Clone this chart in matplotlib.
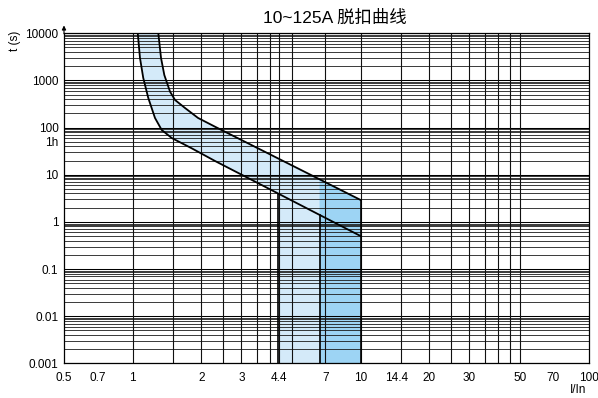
import matplotlib
matplotlib.use("Agg")
import matplotlib.pyplot as plt
import numpy as np

plt.rcParams["font.family"] = ["Liberation Sans", "Noto Sans CJK SC", "DejaVu Sans"]

# 脱扣曲线边界 (I/In, t 秒)
upper_i = [1.296, 1.332, 1.377, 1.459, 1.534, 1.697, 1.935, 2.30, 10.0]
upper_t = [10000, 2990, 1300, 577, 385, 260, 160, 104, 2.91]
lower_i = [1.053, 1.077, 1.113, 1.171, 1.253, 1.341, 1.484, 1.816, 2.30, 10.0]
lower_t = [10000, 2990, 1130, 424, 160, 89, 60, 36.3, 19.5, 0.5]

# 瞬时脱扣区
band_light = [4.35, 6.6]
band_dark = [6.6, 10.0]

x_ticks = [0.5, 0.7, 1, 2, 3, 4.4, 7, 10, 14.4, 20, 30, 50, 70, 100]
x_labels = ["0.5", "0.7", "1", "2", "3", "4.4", "7", "10", "14.4", "20", "30", "50", "70", "100"]
y_ticks = [0.001, 0.01, 0.1, 1, 10, 50, 100, 1000, 10000]
y_labels = ["0.001", "0.01", "0.1", "1", "10", "1h", "100", "1000", "10000"]

x_grid = [1, 1.5, 2, 2.5, 3, 3.5, 4, 4.4, 5, 7, 10, 15, 20, 25, 30, 35, 40, 45, 50]
decades = [0.001, 0.01, 0.1, 1, 10, 100, 1000, 10000]
y_mult = [2, 3, 4, 5, 6, 7, 8, 8.6, 9.2]

LIGHT = "#d4eaf9"
DARK = "#9dd4f4"


def on_curve(x, xs, ys):
    return 10 ** np.interp(np.log10(x), np.log10(xs), np.log10(ys))


fig = plt.figure(figsize=(5.98, 3.98), dpi=100)
ax = fig.add_axes([0.107, 0.087, 0.8775, 0.8295])
ax.set_xscale("log")
ax.set_yscale("log")
ax.set_xlim(0.5, 100)
ax.set_ylim(0.001, 10000)

# band between the curves
ax.fill(lower_i + upper_i[::-1], lower_t + upper_t[::-1], color=LIGHT, lw=0, zorder=0.5)

# instantaneous zones
y0 = 0.001
l_a, l_b = band_light
ax.fill([l_a, l_a, l_b, l_b],
        [y0, on_curve(l_a, lower_i, lower_t), on_curve(l_b, lower_i, lower_t), y0],
        color=LIGHT, lw=0, zorder=0.5)
d_a, d_b = band_dark
ax.fill([d_a, d_a, d_b, d_b],
        [y0, on_curve(d_a, upper_i, upper_t), on_curve(d_b, upper_i, upper_t), y0],
        color=DARK, lw=0, zorder=0.6)

# grid
for d in decades:
    ax.axhline(d, color="black", lw=0.75, zorder=1)
    if d < 10000:
        for m in y_mult:
            ax.axhline(d * m, color="#1a1a1a", lw=0.6, zorder=1)
for v in x_grid:
    ax.axvline(v, color="#111111", lw=0.8, zorder=1)

# curves and zone edges
ax.plot(upper_i, upper_t, color="black", lw=1.3, zorder=3)
ax.plot(lower_i, lower_t, color="black", lw=1.3, zorder=3)
ax.plot([l_a, l_a], [y0, on_curve(l_a, lower_i, lower_t)], color="black", lw=1.2, zorder=3)
ax.plot([l_b, l_b], [y0, on_curve(l_b, lower_i, lower_t)], color="black", lw=1.2, zorder=3)
ax.plot([d_b, d_b], [y0, on_curve(d_b, upper_i, upper_t)], color="black", lw=1.2, zorder=3)

ax.set_xticks(x_ticks)
ax.set_xticklabels(x_labels)
ax.set_yticks(y_ticks)
ax.set_yticklabels(y_labels)
ax.minorticks_off()
ax.tick_params(axis="x", length=0, pad=6, labelsize=8.5)
ax.tick_params(axis="y", length=0, pad=4, labelsize=8.5)
for s in ax.spines.values():
    s.set_linewidth(0.9)

ax.annotate("", xy=(0, 1.032), xytext=(0, 0.99), xycoords="axes fraction",
            arrowprops=dict(arrowstyle="-|>", lw=0.8, color="black", mutation_scale=6))

fig.text(335 / 598, 1 - 18 / 398, "10~125A 脱扣曲线", ha="center", va="center", fontsize=12.5)
fig.text(15 / 598, 1 - 41 / 398, "t (s)", rotation=90, ha="center", va="center", fontsize=8.5)
fig.text(578 / 598, 1 - 390 / 398, "I/In", ha="center", va="center", fontsize=8.5)

fig.savefig("out.png", dpi=100)
